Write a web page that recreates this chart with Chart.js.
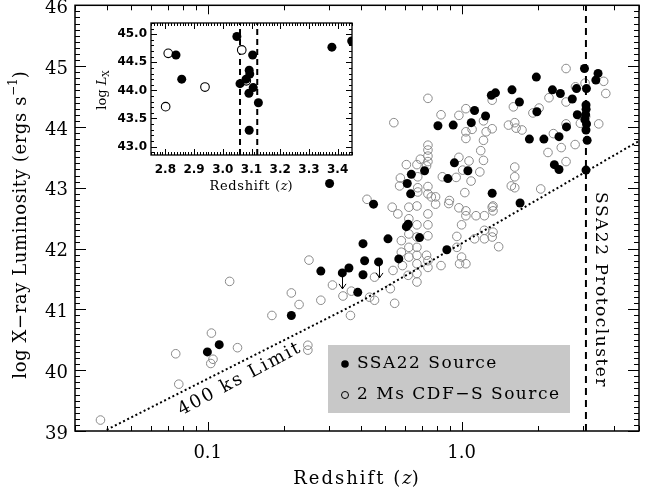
<!DOCTYPE html>
<html>
<head>
<meta charset="utf-8">
<script src="https://cdn.jsdelivr.net/npm/chart.js@4.4.1/dist/chart.umd.min.js"></script>
<style>
  body { margin: 0; background: #fff; }
  #wrap { position: relative; width: 645px; height: 493px; }
  #inset { position: absolute; left: 95px; top: 15px; }
</style>
</head>
<body>
<div id="wrap">
  <canvas id="main" width="645" height="493"></canvas>
  <canvas id="inset" width="265" height="185"></canvas>
</div>
<script>
// SSA22 sources outside the inset window (redshift, log Lx)
const ssaZ = [0.0997, 0.111, 0.2135, 0.279, 0.360, 0.39, 0.302, 0.409, 0.415, 0.409,
  0.450, 0.513, 0.566, 0.611, 0.630, 0.634, 0.606, 0.616, 0.683, 0.715,
  0.883, 0.937, 1.059, 1.32, 1.70, 0.875, 0.807, 0.927, 1.092, 1.125,
  1.243, 1.31, 1.36, 1.58, 1.69, 1.97, 1.98, 1.85, 2.11, 2.28,
  2.45, 2.42, 2.32, 2.42, 2.59, 2.73];
const ssaL = [40.30, 40.42, 40.90, 41.63, 41.68, 41.28, 43.07, 42.08, 41.80, 41.57,
  42.73, 42.16, 41.83, 43.07, 42.90, 43.22, 42.36, 42.40, 42.18, 43.28,
  43.15, 43.41, 43.28, 42.91, 42.75, 41.98, 44.02, 44.03, 44.07, 44.27,
  44.18, 44.52, 44.56, 44.61, 44.41, 44.82, 44.25, 43.80, 43.80, 44.61,
  44.55, 43.84, 43.38, 43.30, 44.00, 44.46];

// SSA22 upper limits (drawn with a down arrow)
const ulZ = [0.339, 0.471];
const ulL = [41.60, 41.78];

// SSA22 sources around the protocluster (shown in both panels)
const inSsaZ = [2.837, 2.857, 3.049, 3.060, 3.081, 3.092, 3.094, 3.091, 3.092, 3.104, 3.106, 3.124, 3.380, 3.449];
const inSsaL = [44.63, 44.20, 44.96, 44.12, 44.20, 44.36, 44.29, 43.95, 43.29, 44.63, 44.05, 43.78, 44.77, 44.88];

// 2 Ms CDF-S sources
const cdfZ = [0.0378, 0.0748, 0.0769, 0.1034, 0.1028, 0.1049, 0.131, 0.122, 0.179, 0.2135,
  0.229, 0.2505, 0.248, 0.248, 0.279, 0.31, 0.341, 0.365, 0.368, 0.424,
  0.434, 0.454, 0.454, 0.524, 0.537, 0.545, 0.533, 0.561, 0.585, 0.579,
  0.579, 0.616, 0.62, 0.62, 0.62, 0.62, 0.62, 0.667, 0.667, 0.667,
  0.667, 0.667, 0.667, 0.667, 0.667, 0.728, 0.737, 0.737, 0.737, 0.737,
  0.737, 0.79, 0.83, 0.89, 0.958, 0.958, 1.0, 0.982, 1.04, 0.976,
  1.04, 1.04, 1.14, 1.23, 1.32, 1.125, 1.23, 1.23, 1.32, 1.33,
  1.40, 1.0, 0.541, 0.737, 0.83, 0.976, 1.04, 1.04, 1.04, 1.10,
  1.22, 1.25, 1.19, 1.22, 1.18, 1.09, 1.03, 0.976, 1.07, 0.952,
  1.01, 0.84, 0.737, 0.737, 0.737, 0.737, 0.688, 0.667, 0.606, 0.574,
  0.570, 0.672, 0.672, 0.737, 0.737, 0.76, 0.79, 0.896, 1.32, 1.22,
  1.32, 1.53, 1.62, 1.64, 1.73, 1.60, 1.91, 2.02, 2.21, 2.58,
  2.58, 2.58, 2.30, 2.47, 2.19, 2.58, 2.05, 1.62, 1.62, 1.57,
  1.62, 1.33, 1.33, 3.47, 3.63, 3.70, 0.672, 0.728];
const cdfL = [39.18, 40.27, 39.77, 40.61, 40.11, 40.18, 40.37, 41.46, 40.90, 41.27,
  41.08, 41.81, 40.41, 40.33, 41.15, 41.40, 41.22, 40.90, 41.30, 42.81,
  41.20, 41.53, 41.15, 41.34, 41.64, 41.10, 42.68, 42.57, 41.72, 41.94,
  42.13, 41.56, 41.86, 42.02, 42.24, 42.49, 42.68, 42.70, 42.39, 42.19,
  42.02, 41.89, 41.75, 41.59, 41.45, 41.89, 41.80, 41.69, 42.21, 42.39,
  42.57, 42.73, 41.72, 42.74, 42.20, 42.02, 41.86, 41.75, 41.75, 42.67,
  42.62, 42.54, 42.54, 42.54, 42.68, 42.16, 42.30, 42.16, 42.19, 42.27,
  42.03, 42.39, 44.07, 44.47, 44.20, 44.19, 44.30, 43.92, 43.81, 43.96,
  43.78, 43.92, 43.61, 43.45, 43.26, 43.11, 42.92, 43.50, 43.44, 43.17,
  43.29, 43.18, 43.70, 43.62, 43.52, 43.43, 43.47, 43.38, 43.38, 43.16,
  43.03, 43.18, 43.00, 43.02, 42.90, 42.85, 42.85, 42.79, 44.44, 44.10,
  43.97, 44.03, 44.07, 43.98, 43.95, 44.33, 44.23, 44.31, 44.48, 44.96,
  44.41, 44.05, 43.89, 43.66, 43.58, 43.43, 42.98, 43.34, 43.18, 43.03,
  43.00, 42.70, 42.62, 44.05, 44.75, 44.55, 42.93, 43.36];
const inCdfZ = [2.801, 2.810, 2.938, 3.066, 3.082];
const inCdfL = [43.71, 44.66, 44.06, 44.72, 44.17];

// 400 ks flux limit curve
const limZ = [0.040, 0.396, 1.29, 5.0];
const limL = [39.02, 41.12, 42.35, 43.77];

const protoZ = 3.09;
const protoEdges = [3.06, 3.12];

const xTicks = [0.1, 1.0];
const yTicks = [39, 40, 41, 42, 43, 44, 45, 46];
const inXTicks = [2.8, 2.9, 3.0, 3.1, 3.2, 3.3, 3.4];
const inYTicks = [43.0, 43.5, 44.0, 44.5, 45.0];

const SERIF = '"DejaVu Serif", serif';
const toPts = (xs, ys) => xs.map((v, i) => ({ x: v, y: ys[i] }));

function steps(a, b, s) {
  const out = [];
  for (let k = Math.round(a / s); k <= Math.round(b / s); k++) out.push(+(k * s).toFixed(4));
  return out;
}
function logMinor(min, max) {
  const out = [];
  for (const d of [0.01, 0.1, 1]) {
    for (let k = 1; k < 10; k++) {
      const v = +(k * d).toPrecision(3);
      if (v >= min && v <= max) out.push(v);
    }
  }
  return out;
}

// draw a run of text pieces centred on (x, y), rotated by angle
function drawText(ctx, parts, x, y, angle, align) {
  ctx.save();
  ctx.translate(x, y);
  ctx.rotate(angle || 0);
  ctx.fillStyle = '#000';
  ctx.textBaseline = 'middle';
  ctx.textAlign = 'left';
  let w = 0;
  parts.forEach(p => {
    ctx.font = p.font;
    ctx.letterSpacing = p.ls || '0px';
    p.w = ctx.measureText(p.t).width;
    w += p.w;
  });
  let cx = align === 'left' ? 0 : -w / 2;
  parts.forEach(p => {
    ctx.font = p.font;
    ctx.letterSpacing = p.ls || '0px';
    ctx.fillText(p.t, cx, p.dy || 0);
    cx += p.w;
  });
  ctx.restore();
}

// box around the plot with inward ticks on all four sides
const framePlugin = {
  id: 'frame',
  afterDatasetsDraw(chart, args, o) {
    const { ctx, chartArea: a } = chart;
    const xs = chart.scales.x, ys = chart.scales.y;
    ctx.save();
    ctx.strokeStyle = '#000';
    ctx.lineWidth = 1;
    ctx.beginPath();
    const xMark = (vals, len) => vals.forEach(v => {
      const p = Math.round(xs.getPixelForValue(v)) + 0.5;
      ctx.moveTo(p, a.bottom); ctx.lineTo(p, a.bottom - len);
      ctx.moveTo(p, a.top); ctx.lineTo(p, a.top + len);
    });
    const yMark = (vals, len) => vals.forEach(v => {
      const p = Math.round(ys.getPixelForValue(v)) + 0.5;
      ctx.moveTo(a.left, p); ctx.lineTo(a.left + len, p);
      ctx.moveTo(a.right, p); ctx.lineTo(a.right - len, p);
    });
    xMark(o.xMinor, o.xLen[1]);
    xMark(o.xMajor, o.xLen[0]);
    yMark(o.yMinor, o.yLen[1]);
    yMark(o.yMajor, o.yLen[0]);
    ctx.stroke();
    ctx.lineWidth = o.frameWidth;
    ctx.strokeRect(a.left, a.top, a.right - a.left, a.bottom - a.top);
    ctx.restore();
  }
};

const mainNotes = {
  id: 'mainNotes',
  afterDraw(chart) {
    const ctx = chart.ctx;
    const xs = chart.scales.x, ys = chart.scales.y;

    // upper-limit arrows
    ctx.save();
    ctx.strokeStyle = '#000';
    ctx.lineWidth = 1;
    ulZ.forEach((z, i) => {
      const px = Math.round(xs.getPixelForValue(z)) + 0.5;
      const py = ys.getPixelForValue(ulL[i]);
      ctx.beginPath();
      ctx.moveTo(px, py);
      ctx.lineTo(px, py + 16);
      ctx.moveTo(px - 3.5, py + 11);
      ctx.lineTo(px, py + 16);
      ctx.lineTo(px + 3.5, py + 11);
      ctx.stroke();
    });
    ctx.restore();

    // legend
    ctx.save();
    ctx.fillStyle = '#c8c8c8';
    ctx.fillRect(328, 345, 242, 68);
    ctx.fillStyle = '#000';
    ctx.beginPath();
    ctx.arc(345, 364, 3.8, 0, Math.PI * 2);
    ctx.fill();
    ctx.strokeStyle = '#000';
    ctx.lineWidth = 1;
    ctx.beginPath();
    ctx.arc(345, 395, 3.5, 0, Math.PI * 2);
    ctx.stroke();
    ctx.restore();
    const lf = '17px ' + SERIF;
    drawText(ctx, [{ t: 'SSA22 Source', font: lf, ls: '1.5px' }], 357, 364, 0, 'left');
    drawText(ctx, [{ t: '2 Ms CDF\u2212S Source', font: lf, ls: '1.5px' }], 357, 395, 0, 'left');

    const f = '18px ' + SERIF;
    drawText(ctx, [{ t: 'SSA22 Protocluster', font: '17px ' + SERIF, ls: '1.5px' }], 600, 290, Math.PI / 2);
    drawText(ctx, [{ t: '400 ks Limit', font: f, ls: '2px' }], 240, 379, -0.49);

    drawText(ctx, [
      { t: 'log X\u2212ray Luminosity (ergs s', font: f, ls: '0.6px' },
      { t: '\u22121', font: '12px ' + SERIF, dy: -7 },
      { t: ')', font: f }
    ], 21, 225, -Math.PI / 2);
    drawText(ctx, [
      { t: 'Redshift (', font: f, ls: '2px' },
      { t: 'z', font: 'italic 18px ' + SERIF },
      { t: ')', font: f, ls: '2px' }
    ], 357, 479, 0);
  }
};

const insetNotes = {
  id: 'insetNotes',
  afterDraw(chart) {
    const ctx = chart.ctx;
    drawText(ctx, [
      { t: 'Redshift (', font: '13px ' + SERIF, ls: '0.7px' },
      { t: 'z', font: 'italic 13px ' + SERIF },
      { t: ')', font: '13px ' + SERIF }
    ], 156, 172, 0);
    drawText(ctx, [
      { t: 'log ', font: '13px ' + SERIF },
      { t: 'L', font: 'italic 13px ' + SERIF },
      { t: 'X', font: '9px ' + SERIF, dy: 4 }
    ], 8, 75, -Math.PI / 2);
  }
};

new Chart(document.getElementById('main'), {
  type: 'scatter',
  data: {
    datasets: [
      {
        label: 'SSA22 Source',
        data: toPts(ssaZ.concat(ulZ, inSsaZ), ssaL.concat(ulL, inSsaL)),
        pointRadius: 4.5,
        pointBackgroundColor: '#000',
        pointBorderColor: '#000',
        pointBorderWidth: 0
      },
      {
        label: '400 ks Limit',
        data: toPts(limZ, limL),
        showLine: true,
        borderColor: '#000',
        borderWidth: 2,
        borderDash: [2, 2.6],
        pointRadius: 0
      },
      {
        label: 'SSA22 Protocluster',
        data: [{ x: protoZ, y: 39 }, { x: protoZ, y: 46 }],
        showLine: true,
        borderColor: '#000',
        borderWidth: 2,
        borderDash: [7, 5],
        pointRadius: 0
      },
      {
        label: '2 Ms CDF-S Source',
        data: toPts(cdfZ.concat(inCdfZ), cdfL.concat(inCdfL)),
        pointRadius: 4.3,
        pointBackgroundColor: 'rgba(0,0,0,0)',
        pointBorderColor: '#8a8a8a',
        pointBorderWidth: 1
      }
    ]
  },
  options: {
    responsive: false,
    animation: false,
    devicePixelRatio: 1,
    layout: { padding: { top: 5, right: 6, left: 0, bottom: 0 } },
    plugins: {
      legend: { display: false },
      tooltip: { enabled: false },
      frame: {
        frameWidth: 1.5,
        xMajor: xTicks, xMinor: logMinor(0.03, 5), xLen: [9, 5],
        yMajor: yTicks, yMinor: steps(39, 46, 0.1), yLen: [11, 5]
      }
    },
    scales: {
      x: {
        type: 'logarithmic',
        min: 0.03,
        max: 5,
        grid: { display: false, drawTicks: false },
        border: { display: false },
        afterBuildTicks: s => { s.ticks = xTicks.map(v => ({ value: v })); },
        afterFit: s => { s.height = 62; s.paddingLeft = 0; s.paddingRight = 0; },
        ticks: {
          autoSkip: false, maxRotation: 0, padding: 12, color: '#000',
          font: { family: SERIF, size: 18 },
          callback: v => Number(v).toFixed(1)
        }
      },
      y: {
        min: 39,
        max: 46,
        grid: { display: false, drawTicks: false },
        border: { display: false },
        afterBuildTicks: s => { s.ticks = yTicks.map(v => ({ value: v })); },
        afterFit: s => { s.width = 75; s.paddingTop = 0; s.paddingBottom = 0; },
        ticks: {
          padding: 7, labelOffset: 3, color: '#000',
          font: { family: SERIF, size: 18 }
        }
      }
    }
  },
  plugins: [framePlugin, mainNotes]
});

new Chart(document.getElementById('inset'), {
  type: 'scatter',
  data: {
    datasets: [
      {
        label: 'SSA22 Source',
        data: toPts(inSsaZ, inSsaL),
        pointRadius: 4.5,
        pointBackgroundColor: '#000',
        pointBorderColor: '#000',
        pointBorderWidth: 0
      },
      {
        label: '2 Ms CDF-S Source',
        data: toPts(inCdfZ, inCdfL),
        pointRadius: 4.3,
        pointBackgroundColor: '#fff',
        pointBorderColor: '#000',
        pointBorderWidth: 1.1
      },
      ...protoEdges.map(z => ({
        label: 'edge',
        data: [{ x: z, y: 42.85 }, { x: z, y: 45.2 }],
        showLine: true,
        borderColor: '#000',
        borderWidth: 2,
        borderDash: [6, 4],
        pointRadius: 0
      }))
    ]
  },
  options: {
    responsive: false,
    animation: false,
    devicePixelRatio: 1,
    layout: { padding: { top: 8, right: 8, left: 0, bottom: 0 } },
    plugins: {
      legend: { display: false },
      tooltip: { enabled: false },
      frame: {
        frameWidth: 1.3,
        xMajor: inXTicks, xMinor: steps(2.75, 3.45, 0.01), xLen: [6, 3],
        yMajor: inYTicks, yMinor: steps(42.9, 45.2, 0.1), yLen: [6, 3]
      }
    },
    scales: {
      x: {
        type: 'linear',
        min: 2.75,
        max: 3.45,
        grid: { display: false, drawTicks: false },
        border: { display: false },
        afterBuildTicks: s => { s.ticks = inXTicks.map(v => ({ value: v })); },
        afterFit: s => { s.height = 45; s.paddingLeft = 0; s.paddingRight = 0; },
        ticks: {
          autoSkip: false, maxRotation: 0, padding: 8, color: '#000',
          font: { family: '"DejaVu Sans", sans-serif', size: 12, weight: 'bold' },
          callback: v => Number(v).toFixed(1)
        }
      },
      y: {
        min: 42.85,
        max: 45.2,
        grid: { display: false, drawTicks: false },
        border: { display: false },
        afterBuildTicks: s => { s.ticks = inYTicks.map(v => ({ value: v })); },
        afterFit: s => { s.width = 56; s.paddingTop = 0; s.paddingBottom = 0; },
        ticks: {
          padding: 4, color: '#000',
          font: { family: '"DejaVu Sans", sans-serif', size: 12, weight: 'bold' },
          callback: v => Number(v).toFixed(1)
        }
      }
    }
  },
  plugins: [framePlugin, insetNotes]
});
</script>
</body>
</html>
